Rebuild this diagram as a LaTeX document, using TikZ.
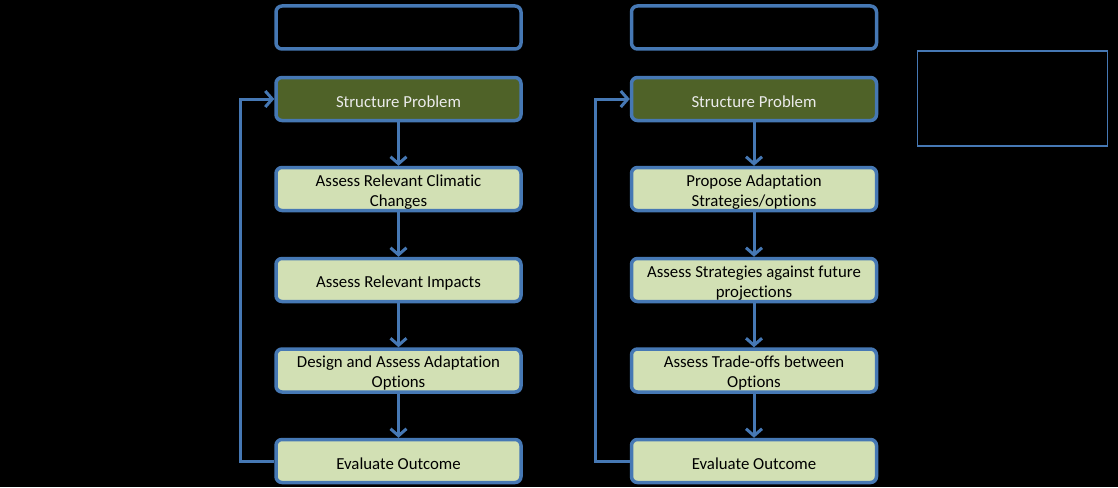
\documentclass[tikz,border=0pt]{standalone}
\usepackage{fontspec}
\setmainfont{Carlito}[Ligatures=NoCommon]
\usetikzlibrary{arrows.meta}
\definecolor{bluel}{RGB}{70,120,180}
\definecolor{darkg}{RGB}{79,98,40}
\definecolor{lightg}{RGB}{210,224,180}
\begin{document}
\begin{tikzpicture}[x=1pt,y=-1pt,
  box/.style={draw=bluel,line width=3.5pt,rounded corners=6pt,minimum width=245pt,minimum height=43pt,inner sep=0pt},
  lab/.style={align=center,font=\fontsize{16.8}{20}\selectfont,inner sep=0pt,yshift=-3pt},
  dbox/.style={box,fill=darkg,label={[lab,text=white!92!black]center:#1}},
  lbox/.style={box,fill=lightg,label={[lab,text=black]center:#1}},
  ebox/.style={box,fill=black},
  arr/.style={draw=bluel,line width=3pt,-{Straight Barb[length=7pt,width=16pt,line width=3pt]}}]
\fill[black] (0,0) rectangle (1118,487);
\useasboundingbox (0,0) rectangle (1118,487);
% left column
\node[ebox] (lt) at (398.5,27.5) {};
\node[dbox={Structure Problem}] (l1) at (398.5,99) {};
\node[lbox={Assess Relevant Climatic\\Changes}] (l2) at (398.5,189) {};
\node[lbox={Assess Relevant Impacts}] (l3) at (398.5,280) {};
\node[lbox={Design and Assess Adaptation\\Options}] (l4) at (398.5,370.5) {};
\node[lbox={Evaluate Outcome}] (l5) at (398.5,461) {};
% right column
\node[ebox] (rt) at (754,27.5) {};
\node[dbox={Structure Problem}] (r1) at (754,99) {};
\node[lbox={Propose Adaptation\\Strategies/options}] (r2) at (754,189) {};
\node[lbox={Assess Strategies against future\\projections}] (r3) at (754,280) {};
\node[lbox={Assess Trade-offs between\\Options}] (r4) at (754,370.5) {};
\node[lbox={Evaluate Outcome}] (r5) at (754,461) {};
% side box
\node[draw=bluel,line width=1.5pt,minimum width=190pt,minimum height=95pt,inner sep=0pt] (side) at (1012.5,98.5) {};
% arrows
\foreach \a/\b in {l1/l2,l2/l3,l3/l4,l4/l5,r1/r2,r2/r3,r3/r4,r4/r5}
  \draw[arr] (\a.south) -- (\b.north);
\coordinate (lc) at (240,0);
\coordinate (rc) at (595,0);
\draw[arr] (l5.west) -| (lc |- l1) -- (l1.west);
\draw[arr] (r5.west) -| (rc |- r1) -- (r1.west);
\end{tikzpicture}
\end{document}
